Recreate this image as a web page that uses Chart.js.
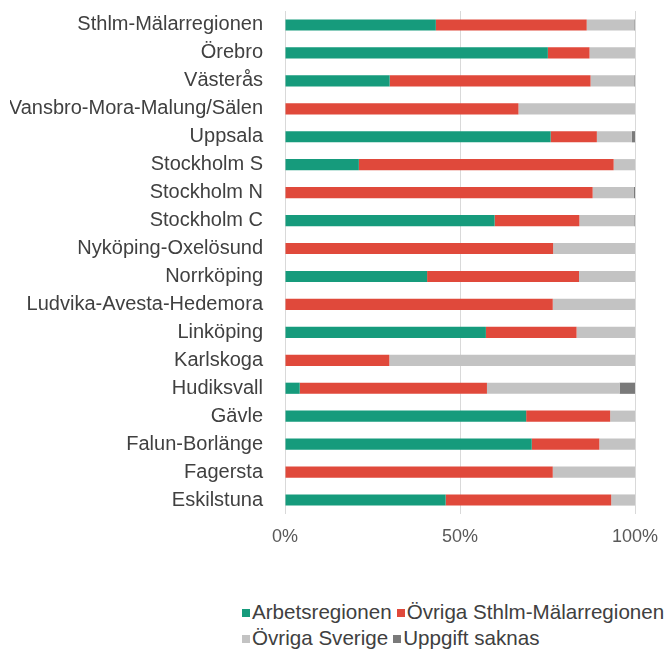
<!DOCTYPE html>
<html>
<head>
<meta charset="utf-8">
<script src="https://cdn.jsdelivr.net/npm/chart.js@4"></script>
<style>
  body { margin: 0; background: #fff; font-family: "Liberation Sans", Arial, sans-serif; overflow: hidden; }
  #wrap { position: relative; width: 667px; height: 650px; }
  #legend { position: absolute; left: 242px; top: 599px; white-space: nowrap; font-size: 20.6px; color: #404040; line-height: 26px; }
  #legend span.item { margin-right: 5px; }
  #legend i { display: inline-block; width: 8px; height: 8px; margin-right: 2px; vertical-align: 2px; }
</style>
</head>
<body>
<div id="wrap">
  <canvas id="chart" width="667" height="560"></canvas>
  <div id="legend"></div>
</div>
<script>
const categories = [
  'Sthlm-Mälarregionen', 'Örebro', 'Västerås', 'Vansbro-Mora-Malung/Sälen', 'Uppsala',
  'Stockholm S', 'Stockholm N', 'Stockholm C', 'Nyköping-Oxelösund', 'Norrköping',
  'Ludvika-Avesta-Hedemora', 'Linköping', 'Karlskoga', 'Hudiksvall', 'Gävle',
  'Falun-Borlänge', 'Fagersta', 'Eskilstuna'
];
const seriesNames = ['Arbetsregionen', 'Övriga Sthlm-Mälarregionen', 'Övriga Sverige', 'Uppgift saknas'];
const arbetsregionen = [43.1, 75.1, 29.9, 0, 75.9, 21.1, 0, 59.9, 0, 40.6, 0, 57.4, 0, 4.2, 68.9, 70.5, 0, 45.9];
const ovrigaMalar    = [43.1, 11.9, 57.4, 66.7, 13.2, 72.8, 87.9, 24.2, 76.6, 43.4, 76.5, 25.9, 29.8, 53.5, 24.0, 19.3, 76.5, 47.3];
const ovrigaSverige  = [13.6, 13.0, 12.5, 33.3, 10.0, 6.1, 11.8, 15.7, 23.4, 16.0, 23.5, 16.7, 70.2, 37.9, 7.1, 10.2, 23.5, 6.8];
const uppgiftSaknas  = [0.2, 0, 0.2, 0, 0.9, 0, 0.3, 0.2, 0, 0, 0, 0, 0, 4.4, 0, 0, 0, 0];
const xTicks = [0, 50, 100];

const colors = ['#169b7c', '#e0493b', '#c3c3c3', '#7a7a7a'];
const seriesValues = [arbetsregionen, ovrigaMalar, ovrigaSverige, uppgiftSaknas];

const chart = new Chart(document.getElementById('chart'), {
  type: 'bar',
  data: {
    labels: categories,
    datasets: seriesNames.map((name, i) => ({
      label: name,
      data: seriesValues[i],
      backgroundColor: colors[i],
      borderWidth: 0,
      barPercentage: 0.4,
      categoryPercentage: 1
    }))
  },
  options: {
    indexAxis: 'y',
    responsive: false,
    animation: false,
    layout: { padding: { top: 11, left: 10, right: 32, bottom: 12 } },
    plugins: { legend: { display: false }, tooltip: { enabled: false } },
    scales: {
      x: {
        stacked: true,
        min: 0,
        max: 100,
        afterBuildTicks: scale => { scale.ticks = xTicks.map(v => ({ value: v })); },
        afterFit: scale => {
          scale.height = 34;
          scale.paddingLeft = 0;
          scale.paddingRight = 0;
        },
        grid: { color: '#d9d9d9', drawTicks: false },
        border: { display: false },
        ticks: {
          padding: 12,
          color: '#595959',
          font: { family: '"Liberation Sans", Arial', size: 18 },
          callback: v => v + '%'
        }
      },
      y: {
        stacked: true,
        afterFit: scale => {
          scale.width = 275;
          scale.paddingTop = 0;
          scale.paddingBottom = 0;
        },
        grid: { display: false, drawTicks: false },
        border: { display: false },
        ticks: {
          autoSkip: false,
          padding: 22,
          color: '#404040',
          font: { family: '"Liberation Sans", Arial', size: 20 }
        }
      }
    }
  }
});

// legend built from the datasets
const legend = document.getElementById('legend');
chart.data.datasets.forEach((ds, i) => {
  const item = document.createElement('span');
  item.className = 'item';
  item.innerHTML = '<i style="background:' + ds.backgroundColor + '"></i>' + ds.label;
  legend.appendChild(item);
  if (i === 1) legend.appendChild(document.createElement('br'));
});
</script>
</body>
</html>
